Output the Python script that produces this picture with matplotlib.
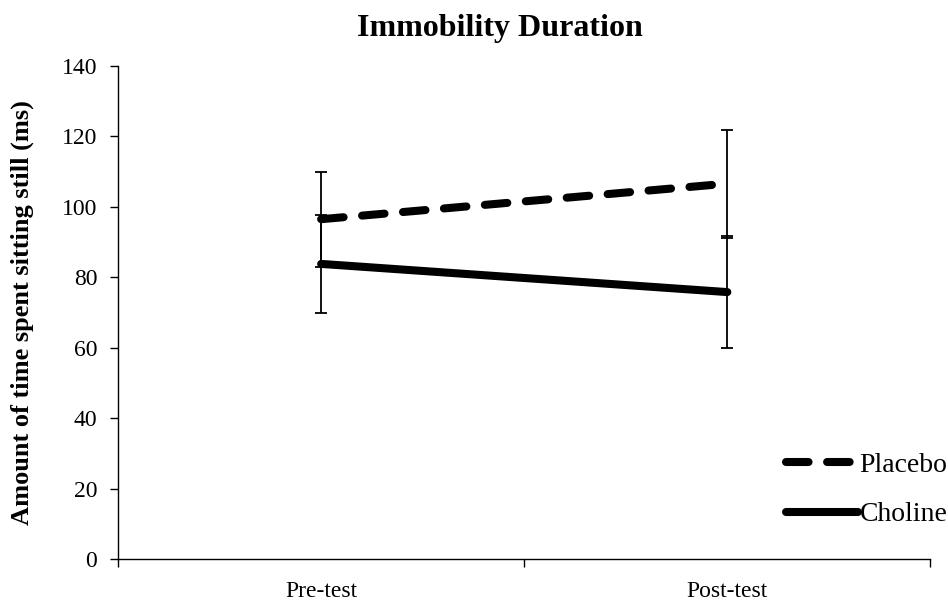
import matplotlib
matplotlib.use("Agg")
import matplotlib.pyplot as plt

categories = ["Pre-test", "Post-test"]
placebo = [96.5, 106.6]
placebo_err = [13.5, 15.3]
choline = [83.8, 75.8]
choline_err = [14.0, 15.8]

plt.rcParams['font.family'] = ['Liberation Serif', 'DejaVu Serif']

fig = plt.figure(figsize=(9.48, 6.13), dpi=100)
ax = fig.add_axes([0.1245, 0.0881, 0.857, 0.8042])

x = [0.5, 1.5]
ax.errorbar(x, placebo, yerr=placebo_err, fmt='none', ecolor='black', elinewidth=1.3, capsize=4.5, capthick=1.3, zorder=2)
ax.errorbar(x, choline, yerr=choline_err, fmt='none', ecolor='black', elinewidth=1.3, capsize=4.5, capthick=1.3, zorder=2)
ax.plot(x, placebo, color='black', lw=5.8, linestyle=(0, (2.8, 2.3)), dash_capstyle='round', solid_capstyle='round', label='Placebo', zorder=3)
ax.plot(x, choline, color='black', lw=5.8, solid_capstyle='round', label='Choline', zorder=3)

ax.set_xlim(0, 2)
ax.set_ylim(0, 140)
ax.set_yticks(range(0, 141, 20))
ax.set_xticks([0, 1, 2])
ax.set_xticklabels([])
ax.set_xticks(x, minor=True)
ax.set_xticklabels(categories, minor=True)
ax.tick_params(axis='x', which='minor', length=0, labelsize=17, pad=16)
ax.tick_params(axis='x', which='major', direction='out', length=6, width=1)
ax.tick_params(axis='y', direction='out', length=6, width=1, labelsize=17, pad=9)
for s in ['top', 'right']:
    ax.spines[s].set_visible(False)
ax.spines['left'].set_linewidth(1)
ax.spines['bottom'].set_linewidth(1)

ax.set_ylabel('Amount of time spent sitting still (ms)', fontsize=19, fontweight='bold', labelpad=20)
fig.text(0.527, 0.953, 'Immobility Duration', ha='center', va='center', fontsize=23, fontweight='bold')

leg = ax.legend(loc='center left', bbox_to_anchor=(0.8085, 0.14), frameon=False, fontsize=20,
                handlelength=2.6, handletextpad=0.05, labelspacing=0.85, borderaxespad=0)

fig.savefig('out.png', dpi=100)
